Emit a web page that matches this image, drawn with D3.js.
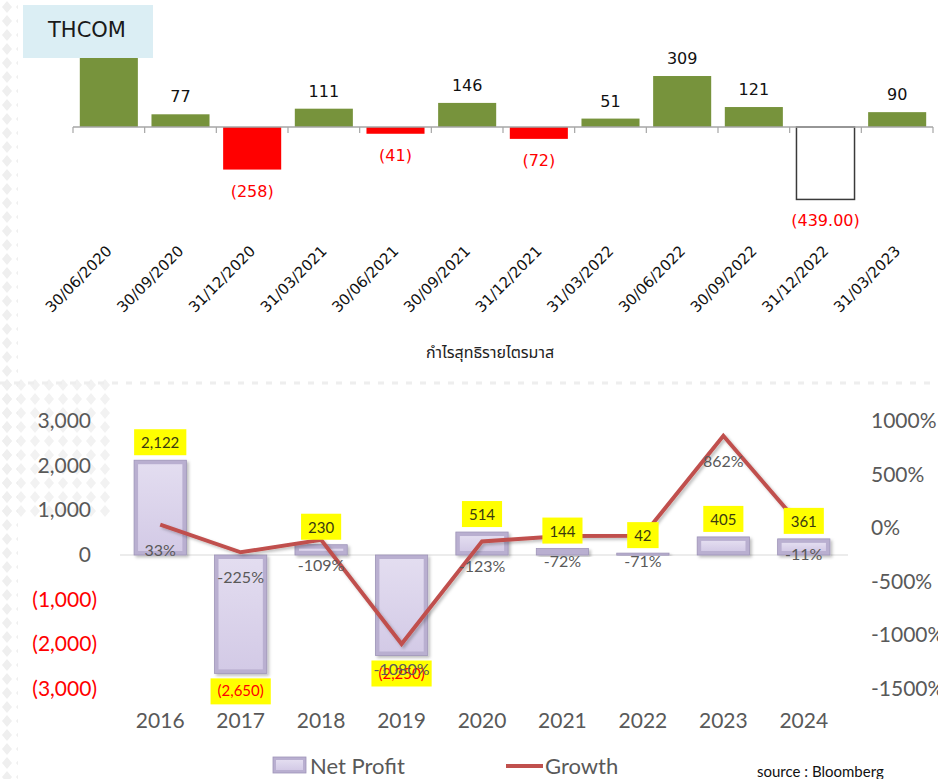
<!DOCTYPE html>
<html>
<head>
<meta charset="utf-8">
<script src="https://cdn.jsdelivr.net/npm/d3@7"></script>
<style>
  body { margin: 0; background: #fff; }
  svg { display: block; }
</style>
</head>
<body>
<script>
/* global d3 */
var width  = 938;
var height = 779;

// quarterly net profit (top chart)
var quarters = ['30/06/2020', '30/09/2020', '31/12/2020', '31/03/2021', '30/06/2021', '30/09/2021',
  '31/12/2021', '31/03/2022', '30/06/2022', '30/09/2022', '31/12/2022', '31/03/2023'];
var quarterProfit = [520, 77, -258, 111, -41, 146, -72, 51, 309, 121, -439, 90];
var hollowQuarter = '31/12/2022';

// yearly net profit + growth (bottom chart)
var years      = ['2016', '2017', '2018', '2019', '2020', '2021', '2022', '2023', '2024'];
var netProfit  = [2122, -2650, 230, -2250, 514, 144, 42, 405, 361];
var growth     = [33, -225, -109, -1080, -123, -72, -71, 862, -11];
var leftTicks  = [3000, 2000, 1000, 0, -1000, -2000, -3000];
var rightTicks = [1000, 500, 0, -500, -1000, -1500];

var grayText = '#595959';
var thaiFont = '"Noto Sans Thai", "Noto Sans", "DejaVu Sans", sans-serif';
var numFont  = 'Lato, "Open Sans", sans-serif';
var titleBox = { x: 23, y: 5, w: 130, h: 53 };

var svg = d3.select('body')
  .append('svg')
  .attr('width', width)
  .attr('height', height)
  .attr('viewBox', [0, 0, width, height].join(' '));

var defs = svg.append('defs');

var pat = defs.append('pattern')
  .attr('id', 'diam')
  .attr('width', 14).attr('height', 14)
  .attr('patternUnits', 'userSpaceOnUse');
pat.append('path').attr('d', 'M7,1 L12,7 L7,13 L2,7 Z').attr('fill', '#efefef');

var shadow = defs.append('filter').attr('id', 'shadow')
  .attr('x', '-20%').attr('y', '-20%').attr('width', '150%').attr('height', '150%');
shadow.append('feDropShadow')
  .attr('dx', 2).attr('dy', 2).attr('stdDeviation', 1.5)
  .attr('flood-color', '#000').attr('flood-opacity', 0.25);

var face = defs.append('linearGradient').attr('id', 'face')
  .attr('x1', 0).attr('y1', 0).attr('x2', 0).attr('y2', 1);
face.append('stop').attr('offset', '0%').attr('stop-color', '#e3ddf0');
face.append('stop').attr('offset', '100%').attr('stop-color', '#d3cae6');

// background decoration
svg.append('rect').attr('width', width).attr('height', height).attr('fill', '#fff');
svg.append('rect').attr('x', 0).attr('y', 0).attr('width', 18).attr('height', height).attr('fill', 'url(#diam)');
svg.append('rect').attr('x', 0).attr('y', 378).attr('width', 112).attr('height', 140)
  .attr('fill', 'url(#diam)').attr('opacity', 0.8);
svg.append('line')
  .attr('x1', 0).attr('x2', width).attr('y1', 383).attr('y2', 383)
  .attr('stroke', '#eeeeee').attr('stroke-width', 3).attr('stroke-dasharray', '6,8');

drawQuarterly();
drawYearly();

/*
* Top chart: quarterly profit bars
*/
function drawQuarterly() {
  var x = d3.scaleBand()
    .domain(quarters)
    .range([73, 933])
    .paddingInner(0.19)
    .paddingOuter(0.095);
  var y = d3.scaleLinear().domain([-600, 600]).range([226, 28]);
  var step = x.step();
  var rows = quarters.map(function (q, i) { return { q: q, v: quarterProfit[i] }; });
  var labelX = function (d) { return x(d.q) + x.bandwidth() / 2; };
  var labelY = function (d) { return d.v < 0 ? y(d.v) + 27 : y(d.v) - 12; };
  var underTitle = function (d) {
    return labelX(d) < titleBox.x + titleBox.w && labelY(d) < titleBox.y + titleBox.h + 16;
  };

  var g = svg.append('g');

  g.selectAll('.qbar')
    .data(rows)
    .enter().append('rect')
    .attr('class', 'qbar')
    .attr('x', function (d) { return x(d.q); })
    .attr('width', x.bandwidth())
    .attr('y', function (d) { return y(Math.max(0, d.v)); })
    .attr('height', function (d) { return Math.abs(y(d.v) - y(0)); })
    .attr('fill', function (d) {
      if (d.q === hollowQuarter) { return '#fff'; }
      return d.v < 0 ? '#ff0000' : '#77933c';
    })
    .attr('stroke', function (d) { return d.q === hollowQuarter ? '#3a3a3a' : 'none'; })
    .attr('stroke-width', 1.5);

  // category axis with ticks between bars
  g.append('line')
    .attr('x1', 73).attr('x2', 933)
    .attr('y1', y(0)).attr('y2', y(0))
    .attr('stroke', '#a6a6a6').attr('stroke-width', 1.5);
  g.selectAll('.qtick')
    .data(d3.range(quarters.length + 1))
    .enter().append('line')
    .attr('x1', function (i) { return 73 + i * step; })
    .attr('x2', function (i) { return 73 + i * step; })
    .attr('y1', y(0)).attr('y2', y(0) + 6)
    .attr('stroke', '#a6a6a6').attr('stroke-width', 1.2);

  // a label that would sit under the title box is not shown
  g.selectAll('.qval')
    .data(rows.filter(function (d) { return !underTitle(d); }))
    .enter().append('text')
    .attr('x', labelX)
    .attr('y', labelY)
    .attr('text-anchor', 'middle')
    .style('font-family', '"DejaVu Sans", sans-serif')
    .style('font-size', '16px')
    .attr('fill', function (d) { return d.v < 0 ? '#ff0000' : '#111'; })
    .text(function (d) {
      if (d.v >= 0) { return d.v; }
      return '(' + (d.q === hollowQuarter ? d3.format('.2f')(-d.v) : -d.v) + ')';
    });

  g.selectAll('.qlabel')
    .data(quarters)
    .enter().append('text')
    .attr('transform', function (q) {
      return 'translate(' + (x(q) + x.bandwidth() / 2 + 4) + ',252) rotate(-45)';
    })
    .attr('text-anchor', 'end')
    .style('font-family', '"DejaVu Sans", sans-serif')
    .style('font-size', '15px')
    .attr('fill', '#111')
    .text(function (q) { return q; });

  g.append('text')
    .attr('x', 490).attr('y', 358)
    .attr('text-anchor', 'middle')
    .style('font-family', thaiFont)
    .style('font-size', '16px')
    .attr('fill', '#222')
    .text('กำไรสุทธิรายไตรมาส');

  // title box sits over the first bar
  svg.append('rect')
    .attr('x', titleBox.x).attr('y', titleBox.y)
    .attr('width', titleBox.w).attr('height', titleBox.h)
    .attr('fill', '#dbeef4');
  svg.append('text')
    .attr('x', titleBox.x + 64).attr('y', 37)
    .attr('text-anchor', 'middle')
    .style('font-family', '"DejaVu Sans", sans-serif')
    .style('font-size', '21px')
    .attr('fill', '#1a1a1a')
    .text('THCOM');
}

/*
* Bottom chart: yearly profit bars and growth line
*/
function drawYearly() {
  var x = d3.scaleBand()
    .domain(years)
    .range([120, 844])
    .paddingInner(0.35)
    .paddingOuter(0.175);
  var yL = d3.scaleLinear().domain([-3000, 3000]).range([689, 421]);
  var yR = d3.scaleLinear().domain([-1500, 1000]).range([689, 421]);
  var fmt = d3.format(',');
  var rows = years.map(function (yr, i) { return { yr: yr, v: netProfit[i], g: growth[i] }; });
  var cx = function (d) { return x(d.yr) + x.bandwidth() / 2; };

  var g = svg.append('g');

  g.selectAll('.ltick')
    .data(leftTicks)
    .enter().append('text')
    .attr('x', function (t) { return t < 0 ? 97 : 91; })
    .attr('y', function (t) { return yL(t) + 7; })
    .attr('text-anchor', 'end')
    .style('font-family', numFont)
    .style('font-size', '21px')
    .attr('fill', function (t) { return t < 0 ? '#ff0000' : grayText; })
    .text(function (t) { return t < 0 ? '(' + fmt(-t) + ')' : fmt(t); });

  g.selectAll('.rtick')
    .data(rightTicks)
    .enter().append('text')
    .attr('x', 871)
    .attr('y', function (t) { return yR(t) + 7; })
    .style('font-family', numFont)
    .style('font-size', '21px')
    .attr('fill', grayText)
    .text(function (t) { return t + '%'; });

  g.selectAll('.year')
    .data(years)
    .enter().append('text')
    .attr('x', function (yr) { return x(yr) + x.bandwidth() / 2; })
    .attr('y', 728)
    .attr('text-anchor', 'middle')
    .style('font-family', numFont)
    .style('font-size', '21px')
    .attr('fill', grayText)
    .text(function (yr) { return yr; });

  g.append('line')
    .attr('x1', 120).attr('x2', 848)
    .attr('y1', yL(0)).attr('y2', yL(0))
    .attr('stroke', '#d9d9d9').attr('stroke-width', 1.2);

  var bars = g.selectAll('.ybar')
    .data(rows)
    .enter().append('g')
    .attr('class', 'ybar')
    .attr('filter', 'url(#shadow)');

  bars.append('rect')
    .attr('x', function (d) { return x(d.yr); })
    .attr('width', x.bandwidth())
    .attr('y', function (d) { return yL(Math.max(0, d.v)); })
    .attr('height', function (d) { return Math.max(2, Math.abs(yL(d.v) - yL(0))); })
    .attr('fill', '#b9afd0')
    .attr('stroke', '#9e94b8')
    .attr('stroke-width', 0.8);

  bars.append('rect')
    .attr('x', function (d) { return x(d.yr) + 4; })
    .attr('width', x.bandwidth() - 8)
    .attr('y', function (d) { return yL(Math.max(0, d.v)) + 4; })
    .attr('height', function (d) { return Math.max(0, Math.abs(yL(d.v) - yL(0)) - 8); })
    .attr('fill', 'url(#face)');

  var line = d3.line()
    .x(cx)
    .y(function (d) { return yR(d.g); });

  g.append('path')
    .datum(rows)
    .attr('d', line)
    .attr('fill', 'none')
    .attr('stroke', '#c0504d')
    .attr('stroke-width', 4)
    .attr('stroke-linejoin', 'miter')
    .attr('filter', 'url(#shadow)');

  var labels = g.selectAll('.nlabel')
    .data(rows)
    .enter().append('g')
    .attr('class', 'nlabel');

  labels.append('text')
    .attr('x', cx)
    .attr('y', function (d) { return d.v < 0 ? yL(d.v) + 23 : yL(d.v) - 12; })
    .attr('text-anchor', 'middle')
    .style('font-family', numFont)
    .style('font-size', '15px')
    .attr('fill', function (d) { return d.v < 0 ? '#ff0000' : '#3a3a10'; })
    .text(function (d) { return d.v < 0 ? '(' + fmt(-d.v) + ')' : fmt(d.v); });

  labels.each(function (d) {
    var node = d3.select(this).select('text').node();
    var w = node.getComputedTextLength() + 14;
    var top = d.v < 0 ? yL(d.v) + 5 : yL(d.v) - 31;
    d3.select(this).insert('rect', 'text')
      .attr('x', cx(d) - w / 2)
      .attr('y', top)
      .attr('width', w)
      .attr('height', 26)
      .attr('fill', '#ffff00');
  });

  g.selectAll('.glabel')
    .data(rows)
    .enter().append('text')
    .attr('x', cx)
    .attr('y', function (d) { return yR(d.g) + 31; })
    .attr('text-anchor', 'middle')
    .style('font-family', numFont)
    .style('font-size', '16px')
    .attr('fill', grayText)
    .text(function (d) { return d.g + '%'; });

  // legend
  var lg = svg.append('g');
  lg.append('rect')
    .attr('x', 273).attr('y', 757).attr('width', 33).attr('height', 16)
    .attr('fill', '#b9afd0').attr('stroke', '#9e94b8').attr('stroke-width', 0.8);
  lg.append('rect')
    .attr('x', 276).attr('y', 760).attr('width', 27).attr('height', 10)
    .attr('fill', 'url(#face)');
  lg.append('text')
    .attr('x', 310).attr('y', 774)
    .style('font-family', numFont)
    .style('font-size', '22px')
    .attr('fill', grayText)
    .text('Net Profit');
  lg.append('line')
    .attr('x1', 506).attr('x2', 543).attr('y1', 766).attr('y2', 766)
    .attr('stroke', '#c0504d').attr('stroke-width', 4);
  lg.append('text')
    .attr('x', 545).attr('y', 774)
    .style('font-family', numFont)
    .style('font-size', '22px')
    .attr('fill', grayText)
    .text('Growth');
  lg.append('text')
    .attr('x', 757).attr('y', 777)
    .style('font-family', numFont)
    .style('font-size', '15px')
    .attr('fill', '#111')
    .text('source : Bloomberg');
}
</script>
</body>
</html>
